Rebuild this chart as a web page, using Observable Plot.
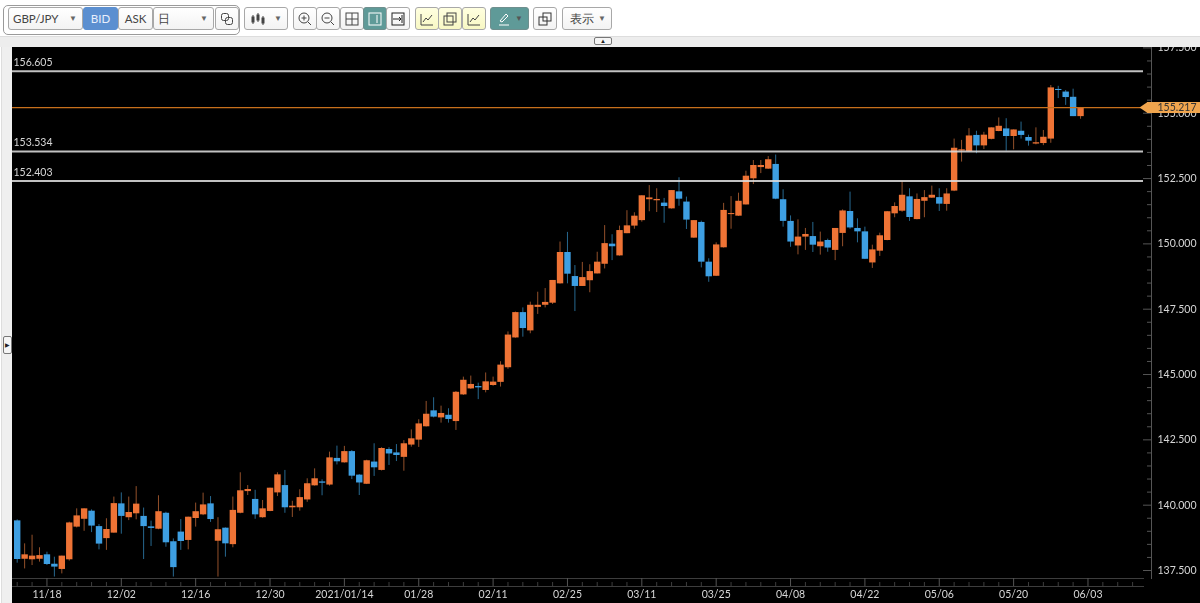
<!DOCTYPE html>
<html><head><meta charset="utf-8">
<script src="https://cdn.jsdelivr.net/npm/d3@7"></script>
<script src="https://cdn.jsdelivr.net/npm/@observablehq/plot@0.6"></script>
<style>
html,body{margin:0;padding:0;background:#fff;width:1200px;height:603px;overflow:hidden;font-family:Lato,sans-serif}
#chart{position:absolute;left:12px;top:47px;width:1188px;height:556px;overflow:hidden;background:#000}
#band{position:absolute;left:0;top:36px;width:1200px;height:11px;background:#ededed;border-top:1px solid #ddd;box-sizing:border-box}
#strip{position:absolute;left:1px;top:47px;width:11px;height:556px;background:#efefef;border-left:1px solid #ddd;box-sizing:border-box}
.grp{position:absolute;top:5px;height:30px;border:1px solid #9a9a9a;border-radius:5px;box-sizing:border-box}
.b{position:absolute;top:7px;height:23px;box-sizing:border-box;background:linear-gradient(#fff,#f3f3f3);border:1px solid #a8a8a8;border-radius:3px;color:#444;font-size:11.5px;line-height:21px;text-align:center;white-space:nowrap}
.b svg{position:absolute;left:50%;top:50%;transform:translate(-50%,-50%)}
.ar{position:absolute;right:5px;top:0;font-size:8px;color:#666}
.y{background:linear-gradient(#ffffe0,#f8f8c4)}
.t{background:#5f9a98;border-color:#6f8f8e;color:#fff}
.mini{position:absolute;background:#f5f5f5;border:1px solid #777;border-radius:2px;box-sizing:border-box;color:#222;font-size:6px;text-align:center}
</style></head><body>
<div class="grp" style="left:3px;width:237px"></div>
<div class="b" style="left:8px;width:75px;text-align:left;padding-left:4px">GBP/JPY<span class="ar">▼</span></div>
<div class="b" style="left:83px;width:35px;background:#5b8fd0;border-color:#5b8fd0;color:#e8eefc">BID</div>
<div class="b" style="left:118px;width:35px">ASK</div>
<div class="b" style="left:153px;width:61px;text-align:left;padding-left:4px">日<span class="ar">▼</span></div>
<div class="b" style="left:215px;width:24px"><svg width="13" height="13" fill="none" stroke="#444"><rect x="1" y="1" width="7" height="7" rx="2"/><rect x="5" y="5" width="7" height="7" rx="2"/></svg></div>
<div class="b" style="left:244px;width:44px;text-align:left"><svg style="left:14px" width="16" height="14" stroke="#444" fill="#444"><path d="M2 3V12M7 1V10M12 4V13"/><rect x="1" y="5" width="2" height="5"/><rect x="6" y="3" width="2" height="5"/><rect x="11" y="6" width="2" height="5"/></svg><span class="ar">▼</span></div>
<div class="b" style="left:293px;width:24px"><svg width="14" height="14" fill="none" stroke="#444"><circle cx="6" cy="6" r="5"/><path d="M3.5 6H8.5M6 3.5V8.5M10 10L13 13"/></svg></div>
<div class="b" style="left:316px;width:24px"><svg width="14" height="14" fill="none" stroke="#444"><circle cx="6" cy="6" r="5"/><path d="M3.5 6H8.5M10 10L13 13"/></svg></div>
<div class="b" style="left:340px;width:24px"><svg width="14" height="14" fill="none" stroke="#444"><rect x="1" y="1" width="12" height="12"/><path d="M7 1V13M1 7H13"/></svg></div>
<div class="b t" style="left:363px;width:24px"><svg width="14" height="14" fill="none" stroke="#fff"><rect x="1" y="1" width="12" height="12"/><path d="M9 3V11"/></svg></div>
<div class="b" style="left:386px;width:24px"><svg width="14" height="14" fill="none" stroke="#222"><rect x="1" y="1" width="12" height="12"/><path d="M2 7H10M8 5L10 7L8 9M11 3V11"/></svg></div>
<div class="b y" style="left:415px;width:24px"><svg width="14" height="14" fill="none" stroke="#444"><path d="M1 2V13H13M3 10L6 6L8 8L12 3"/></svg></div>
<div class="b y" style="left:438px;width:24px"><svg width="14" height="14" fill="none" stroke="#444"><rect x="1" y="4" width="9" height="9"/><rect x="4" y="1" width="9" height="9"/></svg></div>
<div class="b y" style="left:462px;width:24px"><svg width="14" height="14" fill="none" stroke="#444"><path d="M1 2V13H13M3 10L6 6L8 8L12 3"/></svg></div>
<div class="b t" style="left:490px;width:39px;text-align:left"><svg style="left:13px" width="12" height="14" fill="none" stroke="#fff"><path d="M2 9L8 2L10 4L4 10ZM1 13H11"/></svg><span class="ar" style="color:#555">▼</span></div>
<div class="b" style="left:533px;width:24px"><svg width="14" height="14" fill="none" stroke="#333"><rect x="1" y="5" width="8" height="8"/><rect x="5" y="1" width="8" height="8"/></svg></div>
<div class="b" style="left:562px;width:50px;text-align:left;padding-left:7px">表示<span class="ar">▼</span></div>
<div id="band"></div><div id="strip"></div>
<div class="mini" style="left:594px;top:37px;width:18px;height:8px;line-height:6px">▲</div>
<div class="mini" style="left:3px;top:336px;width:9px;height:18px;line-height:16px">▶</div>
<div id="chart"></div>
<script>
const open=[139.40,137.93,137.91,137.93,138.10,137.74,137.54,137.91,139.16,139.46,
139.77,139.18,138.72,138.93,140.05,139.52,139.67,139.57,139.17,139.08,
139.69,138.60,138.97,138.65,139.49,139.63,140.05,138.62,139.12,138.49,
139.69,140.52,140.22,139.52,139.76,140.47,140.75,139.90,139.90,140.20,
140.74,140.89,140.77,141.79,141.62,142.05,141.15,140.80,141.65,141.33,
142.13,142.00,141.83,142.30,142.49,143.00,143.61,143.34,143.44,143.20,
144.22,144.45,144.54,144.39,144.58,144.70,145.26,146.40,147.37,146.67,
147.57,147.65,147.73,148.47,149.67,148.75,148.37,148.59,148.85,149.22,
149.99,149.54,150.39,150.68,150.89,151.69,151.65,151.56,151.34,151.99,
151.60,150.22,150.82,149.30,148.76,149.85,151.12,151.06,151.49,152.49,
152.92,152.86,153.04,151.69,150.86,149.92,150.26,150.28,149.89,150.13,
149.75,150.40,151.24,150.59,150.46,149.27,149.72,150.13,151.15,151.25,
151.80,150.93,151.63,151.75,151.77,151.51,152.02,153.55,153.53,154.15,
153.75,154.00,154.30,154.40,154.11,154.31,154.07,153.82,153.84,154.01,
155.91,155.81,155.61,154.87];
const close=[137.92,138.10,138.05,138.07,137.73,137.63,138.05,139.32,139.59,139.86,
139.20,138.51,139.07,140.06,139.57,139.72,140.04,139.18,139.11,139.75,
138.56,137.61,138.61,139.54,139.75,140.01,139.45,139.06,138.52,139.80,
140.55,140.60,139.63,139.86,140.65,141.16,139.90,139.96,140.29,140.82,
141.01,140.84,141.81,141.66,142.05,141.11,140.85,141.70,141.43,142.17,
141.96,141.90,142.35,142.54,143.11,143.48,143.37,143.51,143.28,144.32,
144.78,144.62,144.49,144.72,144.71,145.36,146.51,147.37,146.76,147.65,
147.65,147.76,148.60,149.67,148.84,148.37,148.71,148.94,149.30,150.01,
149.89,150.51,150.69,151.06,151.84,151.76,151.70,151.43,152.04,151.71,
150.91,150.89,149.30,148.74,149.96,151.28,151.16,151.63,152.59,153.00,
153.00,153.22,151.71,150.86,150.07,150.26,150.36,149.95,150.07,149.84,
150.59,151.26,150.61,150.46,149.41,149.77,150.31,151.23,151.43,151.86,
151.01,151.70,151.77,151.86,151.52,151.91,153.66,153.60,154.13,153.75,
154.16,154.44,154.50,154.11,154.36,154.15,153.93,153.87,154.08,155.97,
155.87,155.60,154.87,155.22];
const high=[139.44,138.52,138.85,138.37,138.20,138.01,138.05,139.35,139.86,139.86,
139.82,139.26,139.48,140.31,140.47,140.31,140.71,139.89,139.39,140.36,
139.73,138.71,139.45,139.54,140.08,140.46,140.33,139.52,139.13,140.31,
141.24,140.75,140.57,140.18,140.65,141.24,141.33,140.15,140.59,141.01,
141.39,140.97,142.03,142.26,142.25,142.09,141.17,141.72,142.35,142.20,
142.20,142.32,142.47,142.88,143.27,143.97,144.11,143.79,143.69,144.35,
144.90,144.94,144.67,145.06,144.90,145.49,146.63,147.39,147.55,147.77,
148.15,148.29,148.60,150.07,150.44,149.17,149.29,149.20,149.68,150.70,
150.35,150.68,151.27,151.19,151.84,152.23,152.11,151.74,152.04,152.53,
151.79,150.89,150.87,149.43,150.04,151.55,151.81,151.94,152.78,153.19,
153.19,153.34,153.40,152.07,151.07,150.92,150.59,150.82,150.45,150.18,
150.59,151.30,151.98,150.96,150.64,149.95,150.41,151.24,151.57,152.39,
152.11,151.91,152.04,152.21,152.11,152.11,154.01,153.96,154.41,154.31,
154.27,154.44,154.82,154.79,154.36,154.66,154.16,154.44,154.34,156.06,
156.03,155.87,155.92,155.22];
const low=[137.78,137.56,137.69,137.82,137.69,137.25,137.37,137.86,139.13,139.00,
138.95,138.29,138.27,138.93,138.89,139.41,139.44,137.92,138.42,139.06,
138.39,137.25,138.27,138.29,139.16,139.60,139.34,137.25,138.01,138.37,
139.67,140.37,139.46,139.50,139.75,140.33,139.69,139.53,139.77,140.11,
140.73,140.36,140.73,141.54,141.61,140.98,140.37,140.79,141.10,141.31,
141.52,141.67,141.30,142.22,142.21,142.99,143.34,143.14,143.14,142.86,
144.20,144.43,144.04,144.30,144.55,144.52,145.20,146.39,146.43,146.56,
147.30,147.55,147.68,148.46,148.47,147.41,148.37,148.13,148.85,149.04,
149.36,149.53,150.39,150.56,150.83,151.23,151.20,150.79,151.33,151.44,
150.55,150.21,149.08,148.53,148.75,149.84,150.56,151.05,151.49,152.27,
152.69,152.85,151.69,150.64,149.87,149.58,149.75,149.67,149.57,149.68,
149.36,149.89,150.56,150.04,149.40,149.06,149.52,150.12,151.00,151.21,
150.86,150.92,151.00,151.74,151.24,151.25,152.00,153.13,153.51,153.45,
153.61,153.98,154.29,153.55,153.60,154.01,153.74,153.79,153.76,153.85,
155.56,155.30,154.87,154.77];
const dateLabels=["11/18","12/02","12/16","12/30","2021/01/14","01/28","02/11","02/25","03/11","03/25","04/08","04/22","05/06","05/20","06/03"];
const dateIdx=[4,14,24,34,44,54,64,74,84,94,104,114,124,134,144];
const minorIdx=d3.range(0,152,2).filter(i=>i%10!==4);
const levels=[156.605,153.534,152.403];
const lastPrice=155.217;
const priceMajor=[137.5,140,142.5,145,147.5,150,152.5,155,157.5];
const priceMinor=d3.range(138,157.5,0.5).filter(v=>v%2.5!==0);

const candles=open.map((o,i)=>({i,o,c:close[i],h:high[i],l:low[i],up:close[i]>=o}));
const bodyUp="#EE7335",bodyDn="#3E9FE2",wickUp="#93502a",wickDn="#27688f";
const gridC="#3d3d3d";
const plot=Plot.plot({
  width:1188,height:556,marginLeft:0,marginRight:49,marginTop:0,marginBottom:25,
  style:{background:"#000",color:"#d6d6d6",fontFamily:"Lato",fontSize:"10.5px",overflow:"hidden",filter:"blur(0.35px)"},
  x:{domain:[0,150],range:[4.7,1120.1],axis:null},
  y:{domain:[137.5,157.5],range:[523,0.4],axis:null},
  marks:[
    Plot.frame({anchor:"bottom",stroke:gridC,insetRight:8}),
    Plot.frame({anchor:"bottom",stroke:gridC,insetRight:8,dy:8}),
    Plot.frame({anchor:"right",stroke:"#555"}),
    Plot.axisX({ticks:minorIdx,tickSize:4,dy:4,text:null,label:null,stroke:gridC,anchor:"bottom"}),
    Plot.axisX({ticks:dateIdx,tickSize:8,tickPadding:4,label:null,stroke:"#555",fill:"#d6d6d6",anchor:"bottom",tickFormat:i=>dateLabels[dateIdx.indexOf(i)],fontSize:10.5}),
    Plot.tickY(priceMinor,{y:d=>d,insetLeft:1135,stroke:"#555"}),
    Plot.tickY(priceMajor,{y:d=>d,insetLeft:1131,stroke:"#555"}),
    Plot.text(priceMajor,{y:d=>d,frameAnchor:"right",textAnchor:"start",dx:6,text:d=>d.toFixed(3),fill:"#d6d6d6"}),
    Plot.ruleX(candles,{x:"i",y1:"l",y2:"h",stroke:d=>d.up?wickUp:wickDn,strokeWidth:1}),
    Plot.ruleX(candles,{x:"i",y1:d=>Math.min(d.o,d.c),y2:d=>Math.max(d.o,d.c),stroke:d=>d.up?bodyUp:bodyDn,strokeWidth:6.4}),
    Plot.ruleY([lastPrice],{y:d=>d,stroke:"#c8701c",strokeWidth:1.3,insetRight:8}),
    Plot.ruleY(levels,{y:d=>d,stroke:"#dcdcdc",strokeOpacity:.88,strokeWidth:2,insetRight:8}),
    Plot.text(levels,{y:d=>d,frameAnchor:"left",textAnchor:"start",dx:1,dy:-8.5,text:d=>d.toFixed(3),fill:"#d6d6d6"}),
    Plot.ruleY([lastPrice],{y:d=>d,insetLeft:1135,insetRight:-49,stroke:"#F0A54E",strokeWidth:11}),
    Plot.dot([lastPrice],{y:d=>d,frameAnchor:"right",dx:-8,fill:"#F0A54E",stroke:null,r:5,
      symbol:{draw(c){c.moveTo(-4,0);c.lineTo(4,-5.5);c.lineTo(4,5.5);c.closePath();}}}),
    Plot.text([lastPrice],{y:d=>d,frameAnchor:"right",textAnchor:"start",dx:6,text:d=>d.toFixed(3),fill:"#333"})
  ]
});
document.getElementById("chart").append(plot);
</script>
</body></html>
